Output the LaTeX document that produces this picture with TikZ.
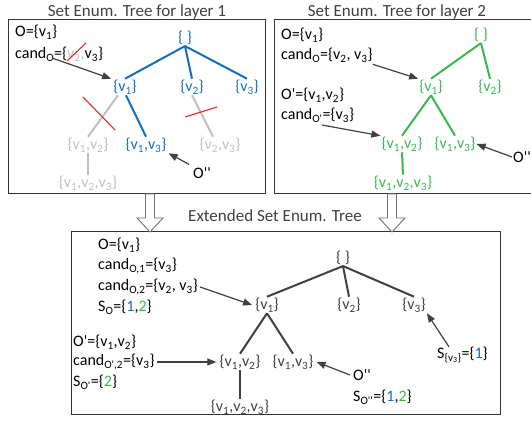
\documentclass[tikz,border=0pt]{standalone}
\usepackage{fontspec}
\setmainfont{Carlito}[Ligatures=TeXOff]
\usetikzlibrary{arrows.meta,calc}
\definecolor{lblue}{RGB}{20,110,190}
\definecolor{lgreen}{RGB}{55,185,75}
\definecolor{lgray}{RGB}{192,192,192}
\definecolor{dgray}{RGB}{64,64,64}
\definecolor{lred}{RGB}{230,40,40}
\newcommand{\sbs}[1]{\textsubscript{#1}}
\begin{document}
\begin{tikzpicture}[x=1pt,y=-1pt,
  every node/.style={font=\fontsize{16}{18}\selectfont, inner sep=1pt},
  lbl/.style={anchor=west, inner sep=0pt},
  ttl/.style={font=\fontsize{17}{19}\selectfont, text=dgray},
  bluen/.style={text=lblue},
  greenn/.style={text=lgreen},
  grayn/.style={text=lgray},
  darkn/.style={text=dgray},
  blueedge/.style={draw=lblue, line width=2pt},
  greenedge/.style={draw=lgreen, line width=2pt},
  grayedge/.style={draw=lgray, line width=2pt},
  darkedge/.style={draw=dgray, line width=2pt},
  ptr/.style={draw=dgray, line width=1.2pt, -{Triangle[length=9pt,width=7pt]}},
  strike/.style={draw=lred, line width=1.1pt},
  frame/.style={draw=black!80, line width=1pt},
  blockarrow/.style={draw=black!55, fill=white, line width=0.9pt}
]
\useasboundingbox (0,0) rectangle (531,422);

% ---------- titles ----------
\node[ttl] (t1) at (137,12) {Set Enum. Tree for layer 1};
\node[ttl] (t2) at (397,12) {Set Enum. Tree for layer 2};
\node[ttl] (t3) at (275,216) {Extended Set Enum. Tree};

% ---------- frames ----------
\draw[frame] (8,20) rectangle (265,194);
\draw[frame] (532,20) -- (274,20) -- (274,194) -- (532,194);
\draw[frame] (71,232) rectangle (500,415);

% ---------- block arrows ----------
\draw[blockarrow] (145.5,194) -- (154.5,194) -- (154.5,218) -- (163,218) -- (150,232) -- (137,218) -- (145.5,218) -- cycle;
\draw[blockarrow] (387.5,194) -- (396.5,194) -- (396.5,218) -- (405,218) -- (392,232) -- (379,218) -- (387.5,218) -- cycle;

% ---------- layer 1 ----------
\node[lbl] (o1) at (15,32) {O=\{v\sbs{1}\}};
\node[lbl] (cand1) at (15,54) {cand\sbs{O}=\{\textcolor{lgray}{v\sbs{2},}v\sbs{3}\}};
\draw[strike] (67,61) -- (86,43);
\coordinate (p1) at (52,58);

\node[bluen] (r1) at (185,38) {\{ \}};
\node[bluen] (a1) at (125,87) {\{v\sbs{1}\}};
\node[bluen] (b1) at (192,87) {\{v\sbs{2}\}};
\node[bluen] (c1) at (247,87) {\{v\sbs{3}\}};
\node[grayn] (ab1) at (88,145) {\{v\sbs{1},v\sbs{2}\}};
\node[bluen] (ac1) at (146,145) {\{v\sbs{1},v\sbs{3}\}};
\node[grayn] (bc1) at (220,145) {\{v\sbs{2},v\sbs{3}\}};
\node[grayn] (abc1) at (88,183) {\{v\sbs{1},v\sbs{2},v\sbs{3}\}};
\node (op1) at (202,173) {O''};

\draw[blueedge] (r1.south) -- (a1.north);
\draw[blueedge] (r1.south) -- (b1.north);
\draw[blueedge] (r1.south) -- (c1.north);
\draw[blueedge] ([xshift=1pt]a1.south) -- (ac1.north);
\draw[grayedge] ([xshift=-7pt]a1.south) -- (ab1.north);
\draw[grayedge] (ab1.south) -- (abc1.north);
\draw[grayedge] (b1.south) -- ([xshift=-7pt]bc1.north);
\draw[strike] (83,97) -- (115,130);
\draw[strike] (185,117) -- (217,107);
\draw[ptr] (p1) -- ([xshift=-1pt]a1.north west);
\draw[ptr] ([xshift=-3pt,yshift=2pt]op1.north west) -- ([xshift=1pt]ac1.south east);

% ---------- layer 2 ----------
\node[lbl] (o2) at (281,35) {O=\{v\sbs{1}\}};
\node[lbl] (cand2) at (281,55) {cand\sbs{O}=\{v\sbs{2}, v\sbs{3}\}};
\node[lbl] (o2p) at (281,95) {O'=\{v\sbs{1},v\sbs{2}\}};
\node[lbl] (cand2p) at (281,115) {cand\sbs{O'}=\{v\sbs{3}\}};
\coordinate (p2) at (322,125);

\node[greenn] (r2) at (481,35) {\{ \}};
\node[greenn] (a2) at (431,87) {\{v\sbs{1}\}};
\node[greenn] (b2) at (490,87) {\{v\sbs{2}\}};
\node[greenn] (ab2) at (402,144) {\{v\sbs{1},v\sbs{2}\}};
\node[greenn] (ac2) at (455,144) {\{v\sbs{1},v\sbs{3}\}};
\node[greenn] (abc2) at (403,183) {\{v\sbs{1},v\sbs{2},v\sbs{3}\}};
\node (op2) at (522,157) {O''};

\draw[greenedge] (r2.south) -- (a2.north);
\draw[greenedge] (r2.south) -- (b2.north);
\draw[greenedge] (a2.south) -- (ab2.north);
\draw[greenedge] (a2.south) -- (ac2.north);
\draw[greenedge] (ab2.south) -- (abc2.north);
\draw[ptr] ([yshift=-2pt]cand2.south east) -- (a2.north west);
\draw[ptr] (p2) -- (ab2.north west);
\draw[ptr] (op2.west) -- (ac2.east);

% ---------- extended tree ----------
\node[lbl] (o3) at (98,245) {O=\{v\sbs{1}\}};
\node[lbl] (co31) at (98,266) {cand\sbs{O,1}=\{v\sbs{3}\}};
\node[lbl] (co32) at (98,287) {cand\sbs{O,2}=\{v\sbs{2}, v\sbs{3}\}};
\node[lbl] (so3) at (98,307) {S\sbs{O}=\{\textcolor{lblue}{1},\textcolor{lgreen}{2}\}};
\node[lbl] (o3p) at (73,342) {O'=\{v\sbs{1},v\sbs{2}\}};
\node[lbl] (co3p) at (73,362) {cand\sbs{O',2}=\{v\sbs{3}\}};
\node[lbl] (so3p) at (73,382) {S\sbs{O'}=\{\textcolor{lgreen}{2}\}};

\node[darkn] (r3) at (343,258) {\{ \}};
\node[darkn] (a3) at (267,305) {\{v\sbs{1}\}};
\node[darkn] (b3) at (349,305) {\{v\sbs{2}\}};
\node[darkn] (c3) at (414,305) {\{v\sbs{3}\}};
\node[darkn] (ab3) at (240,362) {\{v\sbs{1},v\sbs{2}\}};
\node[darkn] (ac3) at (293,362) {\{v\sbs{1},v\sbs{3}\}};
\node[darkn] (abc3) at (240,407) {\{v\sbs{1},v\sbs{2},v\sbs{3}\}};
\node (op3) at (362,375) {O''};
\node[lbl] (sop3) at (353,397) {S\sbs{O''}=\{\textcolor{lblue}{1},\textcolor{lgreen}{2}\}};
\node[lbl] (sv3) at (437,355) {S\sbs{\{v\sbs{3}\}}=\{\textcolor{lblue}{1}\}};

\draw[darkedge] (r3.south) -- (a3.north);
\draw[darkedge] (r3.south) -- (b3.north);
\draw[darkedge] (r3.south) -- (c3.north);
\draw[darkedge] (a3.south) -- (ab3.north);
\draw[darkedge] (a3.south) -- (ac3.north);
\draw[darkedge] (ab3.south) -- (abc3.north);
\draw[ptr] ([xshift=2pt]co32.east) -- ([xshift=-2pt]a3.west);
\draw[ptr] ([xshift=2pt]co3p.east) -- ([xshift=-2pt]ab3.west);
\draw[ptr] ([xshift=-2pt]op3.west) -- ([xshift=2pt]ac3.east);
\draw[ptr] ([xshift=12pt]sv3.north west) -- (c3.south east);
\end{tikzpicture}
\end{document}
